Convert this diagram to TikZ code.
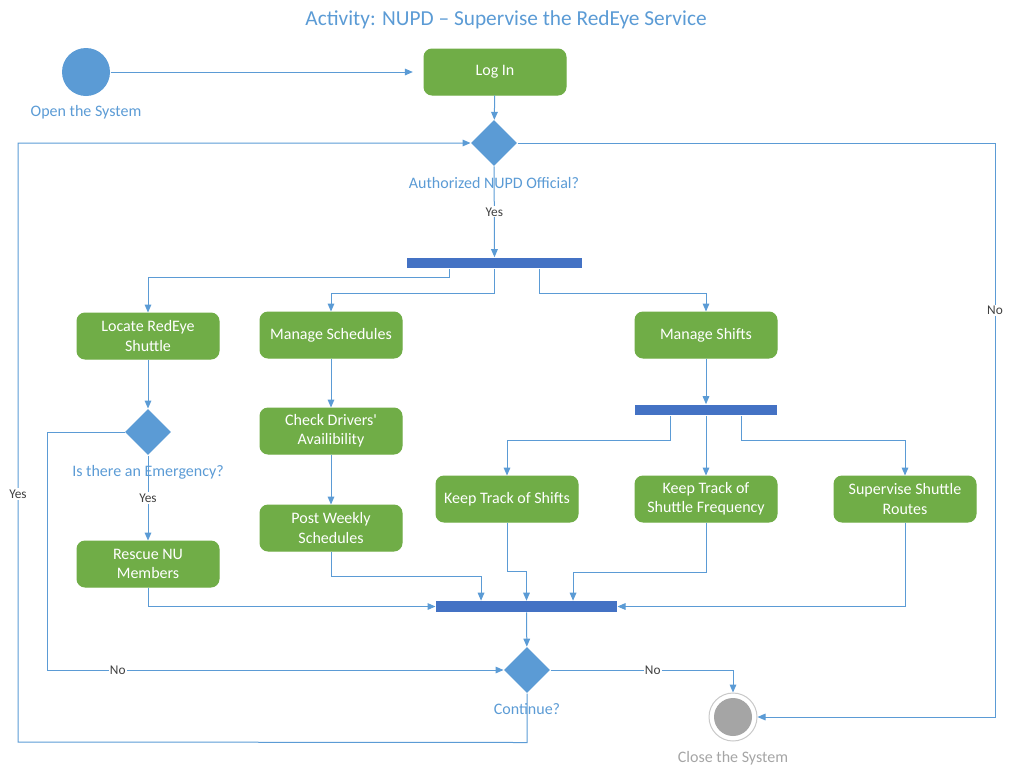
\documentclass[tikz,border=0pt]{standalone}
\usepackage{fontspec}
\setmainfont{Carlito}
\usetikzlibrary{positioning, calc, shapes.geometric, arrows.meta}

\begin{document}
\begin{tikzpicture}[x=0.75pt, y=-0.75pt, font=\fontsize{12}{14.3}\selectfont, align=center, >={Triangle[length=6pt, width=5pt]}, line width=0.75pt]
        % Define colors
        \definecolor{actgreen}{HTML}{70AD47}
        \definecolor{decblue}{HTML}{5B9BD5}
        \definecolor{barblue}{HTML}{4472C4}
        \definecolor{guardgray}{HTML}{404040}
        \definecolor{endgray}{HTML}{A5A5A5}

        % Styles
        \tikzset{
            activity/.style={rectangle, rounded corners=6pt, fill=actgreen, draw=actgreen, text=white, minimum width=106.5pt, minimum height=34.5pt, inner sep=2pt},
            decision/.style={diamond, fill=decblue, minimum size=34.5pt, inner sep=0pt},
            forkbar/.style={rectangle, fill=barblue, inner sep=0pt, minimum height=8pt},
            flow/.style={->, draw=decblue},
            guard/.style={fill=white, text=guardgray, font=\fontsize{10}{11}\selectfont, inner sep=1pt},
            caption/.style={text=decblue, font=\fontsize{12}{14}\selectfont, inner sep=2pt}
        }

        \useasboundingbox (0,0) rectangle (1013,775);

        % Nodes
        \node[text=decblue, font=\fontsize{16}{19}\selectfont] (title) at (506,20) {Activity: NUPD – Supervise the RedEye Service};

        \node[circle, fill=decblue, minimum size=36pt, inner sep=0pt] (start) at (86,72) {};
        \node[caption, below=4pt of start] (startlbl) {Open the System};

        \node[activity] (login) at (495,72) {Log In};
        \node[decision] (auth) at (494,143) {};
        \node[caption, below=5.5pt of auth] (authlbl) {Authorized NUPD Official?};
        \node[forkbar, minimum width=131.25pt] (fork1) at (494.5,263) {};

        \node[activity] (locate) at (148,336) {Locate RedEye\\Shuttle};
        \node[activity] (mansched) at (331,335) {Manage Schedules};
        \node[activity] (manshift) at (706,335) {Manage Shifts};

        \node[decision] (emerg) at (148,432) {};
        \node[caption, below=5pt of emerg] (emerglbl) {Is there an Emergency?};
        \node[activity] (rescue) at (148,564) {Rescue NU\\Members};

        \node[activity] (checkdrv) at (331,431) {Check Drivers\textquotesingle\\Availibility};
        \node[activity] (postweek) at (331,528) {Post Weekly\\Schedules};

        \node[forkbar, minimum width=106.5pt] (fork2) at (706,410) {};
        \node[activity] (trackshift) at (507,499) {Keep Track of Shifts};
        \node[activity] (trackfreq) at (706,499) {Keep Track of\\Shuttle Frequency};
        \node[activity] (routes) at (905,499) {Supervise Shuttle\\Routes};

        \node[forkbar, minimum width=135.75pt] (join) at (526.5,606.5) {};
        \node[decision] (cont) at (527,670) {};
        \node[caption, below=5pt of cont] (contlbl) {Continue?};

        \node[circle, draw=endgray!60, fill=white, minimum size=36pt, inner sep=0pt] (close) at (733,717) {};
        \node[circle, fill=endgray, minimum size=28.5pt, inner sep=0pt] (closedot) at (close.center) {};
        \node[caption, text=endgray, below=5pt of close] (closelbl) {Close the System};

        % Edges
        \draw[flow, shorten >=8pt] (start) -- (login);
        \draw[flow] (login) -- (auth);
        \draw[flow] (auth) -- node[guard] {Yes} (fork1);
        \draw[flow] (auth.east) -- (995,143) |- node[guard, pos=0.146] {No} (close.east);

        \draw[flow] ([xshift=-33.4pt]fork1.south) -- ++(0,9) -| (locate);
        \draw[flow] (fork1.south) -- ++(0,25) -| (mansched);
        \draw[flow] ([xshift=33.4pt]fork1.south) -- ++(0,25) -| (manshift);

        \draw[flow] (locate) -- (emerg);
        \draw[flow] (emerg) -- node[guard] {Yes} (rescue);
        \draw[flow] (emerg.west) -- ++(-77,0) |- node[guard, pos=0.577] {No} (cont.west);
        \draw[flow] (rescue.south) |- (join.west);

        \draw[flow] (mansched) -- (checkdrv);
        \draw[flow] (checkdrv) -- (postweek);
        \draw[flow] (postweek.south) -- ++(0,25) -| ([xshift=-34.1pt]join.north);

        \draw[flow] (manshift) -- (fork2);
        \draw[flow] ([xshift=-27pt]fork2.south) -- ++(0,25) -| (trackshift);
        \draw[flow] (fork2) -- (trackfreq);
        \draw[flow] ([xshift=26.25pt]fork2.south) -- ++(0,25) -| (routes);

        \draw[flow] (trackshift.south) -- ++(0,49) -| (join.north);
        \draw[flow] (trackfreq.south) -- ++(0,50) -| ([xshift=34.9pt]join.north);
        \draw[flow] (routes.south) |- (join.east);

        \draw[flow] (join) -- (cont);
        \draw[flow] (cont.east) -| node[guard, pos=0.28] {No} (close);
        \draw[flow] (cont.south) -- ++(0,49) -- (18,742) |- node[guard, pos=0.207] {Yes} (auth.west);
    \end{tikzpicture}
\end{document}
